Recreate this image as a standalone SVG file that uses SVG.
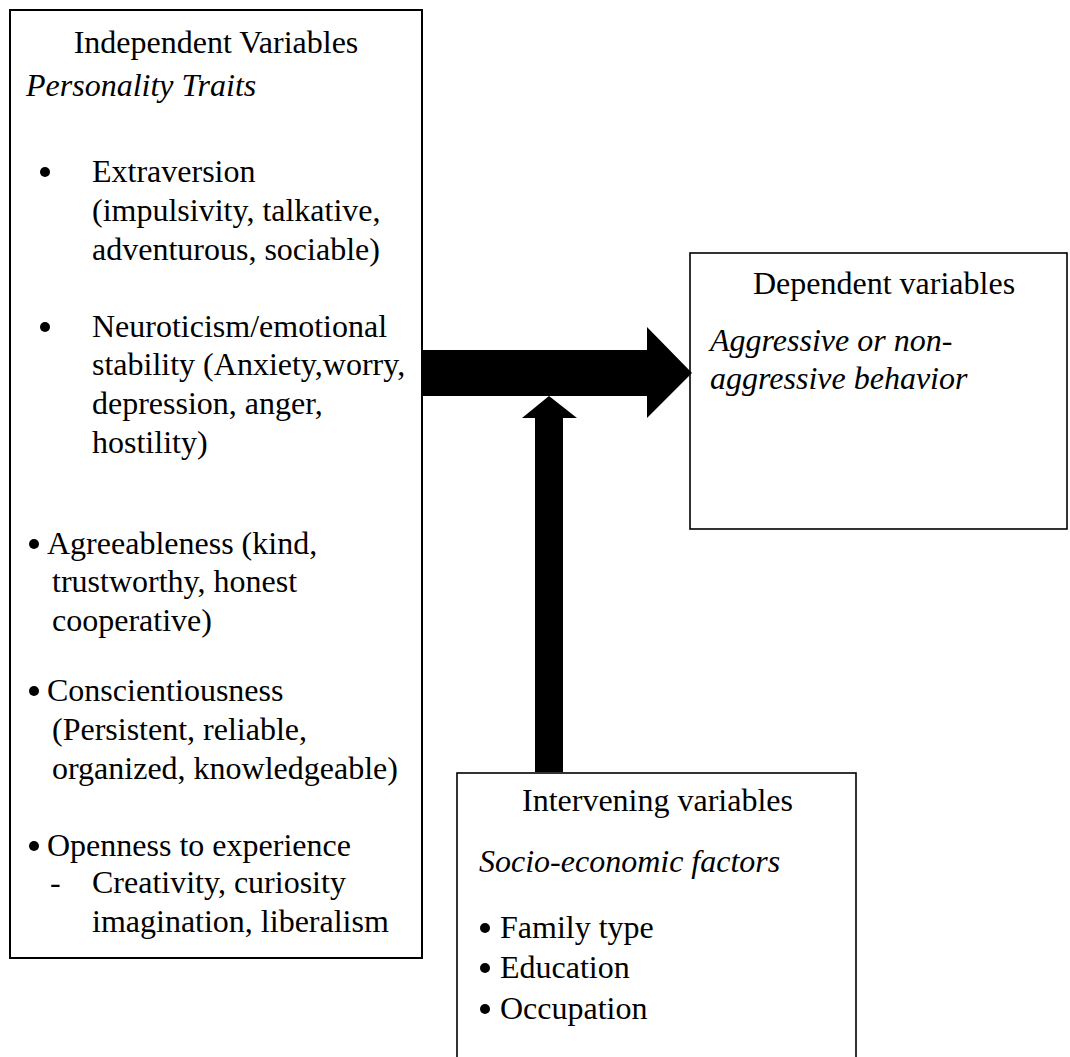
<svg xmlns="http://www.w3.org/2000/svg" width="1070" height="1057" viewBox="0 0 1070 1057">
<style>
.box{fill:#fff;stroke:#000;stroke-width:1.6}
.t{font-family:"Liberation Serif","Times New Roman",serif;font-size:32px;fill:#000}
.i{font-style:italic}
.b{fill:#000}
.arrow{fill:#000;stroke:none}
</style>
<rect width="1070" height="1057" fill="#fff"/>
<g id="independent">
<rect class="box" x="10" y="10" width="412" height="948" style="stroke-width:2"/>
<text class="t" x="216" y="53" text-anchor="middle">Independent Variables</text>
<text class="t i" x="26" y="96">Personality Traits</text>
<circle class="b" cx="45" cy="172" r="5"/>
<text class="t" x="92" y="182">Extraversion</text>
<text class="t" x="92" y="221">(impulsivity, talkative,</text>
<text class="t" x="92" y="260">adventurous, sociable)</text>
<circle class="b" cx="45" cy="327" r="5"/>
<text class="t" x="92" y="337">Neuroticism/emotional</text>
<text class="t" x="92" y="375">stability (Anxiety,worry,</text>
<text class="t" x="92" y="414">depression, anger,</text>
<text class="t" x="92" y="453">hostility)</text>
<circle class="b" cx="34" cy="544" r="5"/>
<text class="t" x="47" y="554">Agreeableness (kind,</text>
<text class="t" x="52" y="592">trustworthy, honest</text>
<text class="t" x="52" y="631">cooperative)</text>
<circle class="b" cx="34" cy="691" r="5"/>
<text class="t" x="47" y="701">Conscientiousness</text>
<text class="t" x="52" y="740">(Persistent, reliable,</text>
<text class="t" x="52" y="779">organized, knowledgeable)</text>
<circle class="b" cx="34" cy="846" r="5"/>
<text class="t" x="47" y="856">Openness to experience</text>
<text class="t" x="50" y="893">-</text>
<text class="t" x="92" y="893">Creativity, curiosity</text>
<text class="t" x="92" y="932">imagination, liberalism</text>
</g>
<g id="dependent">
<rect class="box" x="690" y="253" width="377" height="276"/>
<text class="t" x="753" y="294">Dependent variables</text>
<text class="t i" x="710" y="351">Aggressive or non-</text>
<text class="t i" x="710" y="389">aggressive behavior</text>
</g>
<g id="intervening">
<rect class="box" x="457" y="773" width="399" height="320"/>
<text class="t" x="522" y="811">Intervening variables</text>
<text class="t i" x="479" y="872">Socio-economic factors</text>
<circle class="b" cx="485" cy="928" r="5"/>
<text class="t" x="500" y="938">Family type</text>
<circle class="b" cx="485" cy="968" r="5"/>
<text class="t" x="500" y="978">Education</text>
<circle class="b" cx="485" cy="1009" r="5"/>
<text class="t" x="500" y="1019">Occupation</text>
</g>
<g id="connectors">
<polygon class="arrow" points="422,350 647,350 647,327 692,373 647,418 647,396 422,396"/>
<polygon class="arrow" points="535,772 535,418 522,418 549,396 577,418 563,418 563,772"/>
</g>
</svg>
